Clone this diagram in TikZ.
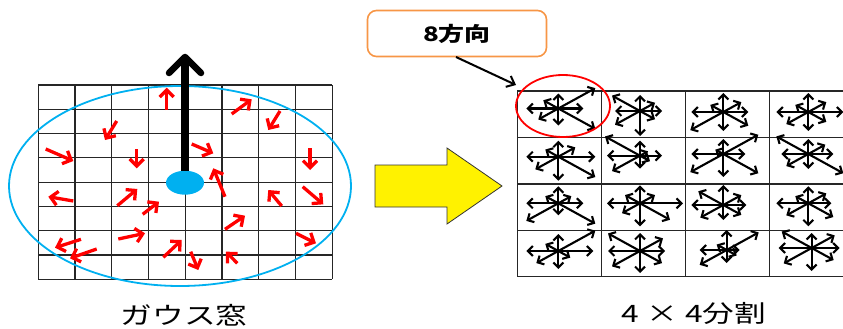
\documentclass[tikz,border=0pt]{standalone}
\usepackage{fontspec}
\newfontfamily\jpfont{Noto Sans CJK JP}
\usetikzlibrary{arrows.meta,shapes.geometric}

\definecolor{skyblue}{HTML}{00B0F0}
\definecolor{callorange}{HTML}{F79646}

\tikzset{
  gridline/.style={line width=1.2pt, black!85},
  vecred/.style={red, line width=3.3pt, -{Straight Barb[length=7pt,width=14pt]}},
  cellarrow/.style={black, line width=2.1pt, -{Straight Barb[length=5pt,width=10pt]}},
  caption/.style={font=\jpfont\fontsize{24}{27}\selectfont, xscale=1.32, inner sep=0pt},
}

% eight arrows from one centre: E, NE, N, NW, W, SW, S, SE lengths
\newcommand\windstar[3]{%
  \foreach \dx/\dy [count=\k from 0] in {1/0, 1/-0.55, 0/-1, -1/-0.55, -1/0, -1/0.55, 0/1, 1/0.55}{%
    \pgfmathsetmacro\len{{#3}[\k]}%
    \draw[cellarrow] (#1,#2) -- ++({\dx*\len},{\dy*\len});
  }%
}

\begin{document}
\begin{tikzpicture}[x=1pt,y=-1pt]
\useasboundingbox (0,0) rectangle (843,329);
\clip (0,0) rectangle (843,329);

% ---- Gaussian window: 8x8 grid of gradient vectors ----
\foreach \i in {0,...,8}{
  \draw[gridline] ({38.3+36.75*\i},85) -- ({38.3+36.75*\i},279.3);
  \draw[gridline] (38.3,{85+24.29*\i}) -- (332.3,{85+24.29*\i});
}
\draw[skyblue, line width=1.8pt] (180,186) ellipse [x radius=171, y radius=100];

\foreach \ax/\ay/\bx/\by in {
  166.7/110/166.7/87.7, 231.7/114/251.7/99.3, 280/111/268.3/130,
  116.7/121/105/140, 45.7/149/73.3/161, 136.7/149.3/136.7/168.3,
  191.7/144/213.3/153.3, 310/148.3/310/170, 225/196.7/213.3/168.3,
  73.3/201/48.3/196.7, 117.3/205.7/137.3/189, 142.7/214.3/159/201.7,
  281.7/206/268.3/190, 302.7/186.7/323.3/204.3, 225/229.3/245/215.7,
  118.3/239/145/233.3, 81/239.3/55/247.7, 96.7/249/70/258.3,
  163.3/257.3/181.7/240, 190.7/251.7/198.3/270, 296/233.3/316/243.3,
  237.3/263.3/226/251.7}{
  \draw[vecred] (\ax,\ay) -- (\bx,\by);
}

% dominant orientation
\coordinate (stemtop) at (185,58);
\node[ellipse, fill=skyblue, minimum width=38pt, minimum height=24pt, inner sep=0pt] (centre) at (185,182.7) {};
\draw[black, line width=7.5pt] (centre.north) -- (stemtop);
\draw[black, line width=6.5pt, line cap=round, line join=round] (169,73) -- (185,57) -- (201,73);

\node[caption] (gausslabel) at (184,315) {ガウス窓};

% ---- big yellow arrow ----
\draw[fill=yellow, draw=black!80, line width=0.8pt]
  (375,165) -- (447,165) -- (447,148) -- (502,186) -- (447,224) -- (447,207) -- (375,207) -- cycle;

% ---- 4x4 subregion grid with 8-bin histograms ----
\foreach \x in {517.3,601.7,685.7,769.3,853}{
  \draw[gridline] (\x,91) -- (\x,276.7);
}
\foreach \y in {91,137.3,184,230.7,276.7}{
  \draw[gridline] (517.3,\y) -- (853,\y);
}

\windstar{558.3}{108.5}{25,37,15,15,32,20,17,37}
\windstar{640}{111}{22,15,16,28,25,25,25,15}
\windstar{723.3}{112}{25,18,19,13,32,33,19,25}
\windstar{808.3}{112}{35,18,19,13,32,22,19,18}

\windstar{558.3}{156.7}{37,17,16,13,32,23,24,37}
\windstar{640}{155.7}{22,8,15,35,33,28,13,10}
\windstar{723.3}{154}{22,35,15,8,32,33,23,35}
\windstar{808.3}{154}{25,17,15,32,27,22,15,35}

\windstar{558.3}{203.3}{25,13,17,13,32,32,12,37}
\windstar{640}{203.3}{43,15,18,15,33,18,23,30}
\windstar{723.3}{205}{23,18,20,25,32,23,15,18}
\windstar{808.3}{203.3}{23,18,17,13,32,22,23,25}

\windstar{558.3}{251}{35,37,17,13,32,22,18,12}
\windstar{640}{251}{25,23,18,32,32,28,22,22}
\windstar{726.7}{250}{13,32,20,10,27,27,13,10}
\windstar{811.7}{248}{28,23,15,30,33,28,23,22}

\draw[red, line width=1.8pt] (563,106) ellipse [x radius=47, y radius=31];

\node[caption] (splitlabel) at (694,313) {4 × 4分割};

% ---- callout ----
\node[draw=callorange, line width=1.6pt, rounded corners=9pt, fill=white,
      minimum width=179pt, minimum height=46pt, inner sep=0pt] (callout) at (457,33.5)
      {\jpfont\bfseries\fontsize{20}{22}\selectfont\scalebox{1.3}[1]{8方向}};
\coordinate (calltip) at (516,85);
\draw[black, line width=2pt, -{Straight Barb[length=7pt,width=12pt]}] (456,57) -- (calltip);
\end{tikzpicture}
\end{document}
